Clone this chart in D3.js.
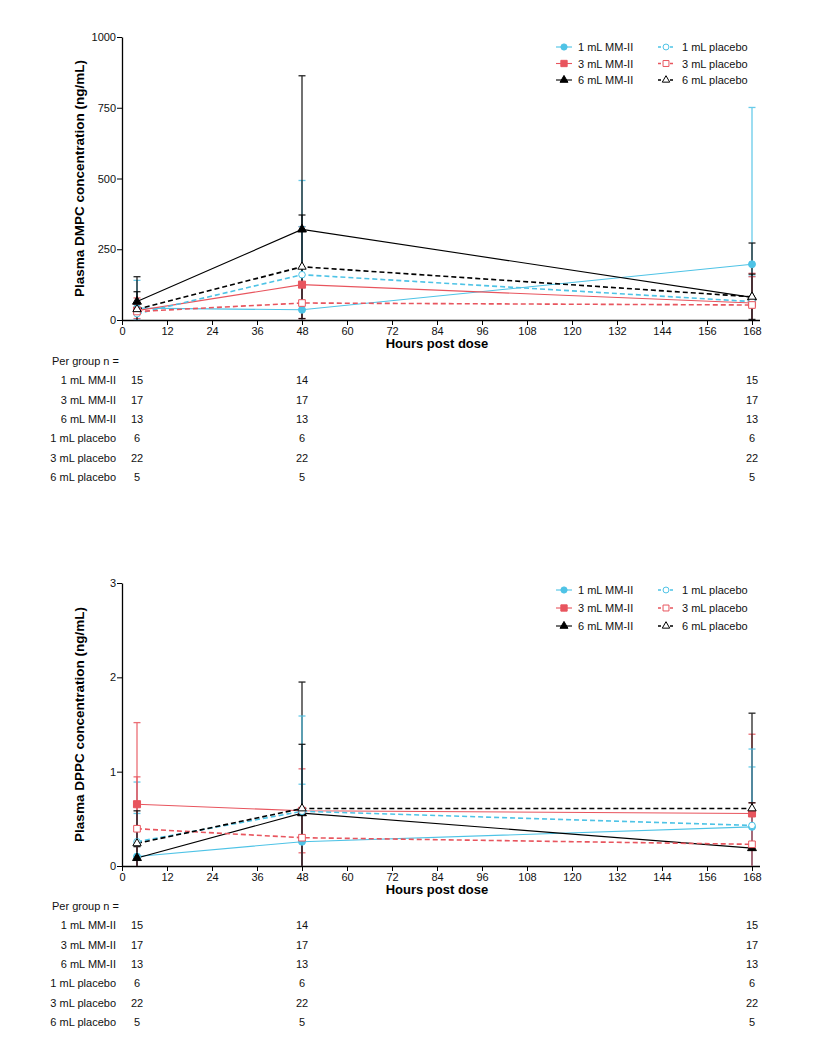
<!DOCTYPE html>
<html>
<head>
<meta charset="utf-8">
<title>DMPC / DPPC plasma concentration</title>
<script src="https://cdnjs.cloudflare.com/ajax/libs/d3/7.8.5/d3.min.js"></script>
<style>
  body { margin: 0; background: #fff; }
  svg text { font-family: "Liberation Sans", Arial, sans-serif; }
</style>
</head>
<body>
<div id="chart"></div>
<script>
// ---- data ----
var hours = [4, 48, 168];
var xTicks = [0, 12, 24, 36, 48, 60, 72, 84, 96, 108, 120, 132, 144, 156, 168];
var groups = ["1 mL MM-II", "3 mL MM-II", "6 mL MM-II", "1 mL placebo", "3 mL placebo", "6 mL placebo"];

// DMPC (ng/mL): mean and SD per group, at 4, 48, 168 h
var dmpcMean = [
  [42, 36, 197],
  [33, 125, 60],
  [65, 320, 80],
  [22, 160, 65],
  [30, 60, 53],
  [38, 188, 82]
];
var dmpcSD = [
  [98, 457, 554],
  [45, 205, 105],
  [88, 543, 192],
  [20, 170, 90],
  [25, 55, 100],
  [62, 183, 80]
];
var dmpcTicks = [0, 250, 500, 750, 1000];

// DPPC (ng/mL)
var dppcMean = [
  [0.10, 0.257, 0.415],
  [0.655, 0.585, 0.557],
  [0.085, 0.56, 0.19],
  [0.257, 0.58, 0.43],
  [0.395, 0.30, 0.23],
  [0.24, 0.61, 0.61]
];
var dppcSD = [
  [0.79, 0.61, 0.635],
  [0.865, 0.445, 0.84],
  [0.12, 1.39, 1.43],
  [0.30, 1.01, 0.81],
  [0.55, 0.30, 0.44],
  [0.345, 0.68, 0.06]
];
var dppcTicks = [0, 1, 2, 3];

// n per group at each time point
var nDmpc = [[15, 14, 15], [17, 17, 17], [13, 13, 13], [6, 6, 6], [22, 22, 22], [5, 5, 5]];
var nDppc = [[15, 14, 15], [17, 17, 17], [13, 13, 13], [6, 6, 6], [22, 22, 22], [5, 5, 5]];

// ---- styling ----
var colors = ["#4ec3e6", "#e8555e", "#000000", "#4ec3e6", "#e8555e", "#000000"];
var shapes = [d3.symbolCircle, d3.symbolSquare, d3.symbolTriangle, d3.symbolCircle, d3.symbolSquare, d3.symbolTriangle];
var symSize = [38, 50, 34, 34, 44, 30];
var dashed = [false, false, false, true, true, true];

var svg = d3.select("#chart").append("svg")
  .attr("width", 816).attr("height", 1056);

var x = d3.scaleLinear().domain([0, 170]).range([122, 759.5]);

function drawPanel(opt) {
  var y = d3.scaleLinear().domain([0, opt.ymax]).range([opt.y0, opt.y1]);
  var g = svg.append("g");

  // axes
  g.append("g")
    .attr("transform", "translate(0," + opt.y0 + ")")
    .call(d3.axisBottom(x).tickValues(xTicks).tickSize(5).tickSizeOuter(0).tickPadding(2))
    .call(function(a){
      a.selectAll("text").attr("font-size", 11).attr("fill", "#111");
      a.select(".domain").attr("stroke-width", 1.3);
    });
  g.append("g")
    .attr("transform", "translate(" + x(0) + ",0)")
    .call(d3.axisLeft(y).tickValues(opt.ticks).tickSize(5).tickSizeOuter(0).tickFormat(d3.format("d")))
    .call(function(a){
      a.selectAll("text").attr("font-size", 11).attr("fill", "#111").attr("x", -6);
      a.select(".domain").attr("stroke-width", 1.3);
    });

  g.append("text")
    .attr("transform", "translate(84," + ((opt.y0 + opt.y1) / 2) + ") rotate(-90)")
    .attr("text-anchor", "middle")
    .attr("font-size", 13.5).attr("font-weight", "bold")
    .text(opt.ylabel);
  g.append("text")
    .attr("x", 437).attr("y", opt.y0 + 28)
    .attr("text-anchor", "middle")
    .attr("font-size", 13).attr("font-weight", "bold")
    .text("Hours post dose");

  // error bars
  groups.forEach(function(name, gi){
    var eb = g.append("g").attr("stroke", colors[gi]).attr("stroke-width", 1.3).attr("opacity", 0.85);
    hours.forEach(function(h, i){
      var m = opt.mean[gi][i], s = opt.sd[gi][i];
      var hi = Math.min(opt.ymax, m + s), lo = Math.max(0, m - s);
      var cx = x(h);
      eb.append("line").attr("x1", cx).attr("x2", cx).attr("y1", y(lo)).attr("y2", y(hi));
      if (m + s <= opt.ymax)
        eb.append("line").attr("x1", cx - 3.5).attr("x2", cx + 3.5).attr("y1", y(hi)).attr("y2", y(hi));
      if (m - s > 0)
        eb.append("line").attr("x1", cx - 3.5).attr("x2", cx + 3.5).attr("y1", y(lo)).attr("y2", y(lo));
    });
  });

  // lines
  var line = d3.line().x(function(d){ return x(d[0]); }).y(function(d){ return y(d[1]); });
  groups.forEach(function(name, gi){
    var pts = hours.map(function(h, i){ return [h, opt.mean[gi][i]]; });
    g.append("path").datum(pts)
      .attr("d", line)
      .attr("fill", "none")
      .attr("stroke", colors[gi])
      .attr("stroke-width", dashed[gi] ? 1.6 : 1.1)
      .attr("stroke-dasharray", dashed[gi] ? "5,3" : null);
  });

  // markers
  groups.forEach(function(name, gi){
    hours.forEach(function(h, i){
      g.append("path")
        .attr("d", d3.symbol().type(shapes[gi]).size(symSize[gi]))
        .attr("transform", "translate(" + x(h) + "," + y(opt.mean[gi][i]) + ")")
        .attr("fill", dashed[gi] ? "#fff" : colors[gi])
        .attr("stroke", colors[gi])
        .attr("stroke-width", 1);
    });
  });

  // legend
  groups.forEach(function(name, gi){
    var col = gi < 3 ? 0 : 1, row = gi % 3;
    var lx = col === 0 ? 556 : 658;
    var ly = opt.legendY + row * opt.legendStep;
    var lg = g.append("g").attr("transform", "translate(" + lx + "," + ly + ")");
    lg.append("line").attr("x1", 0).attr("x2", 16).attr("y1", 0).attr("y2", 0)
      .attr("stroke", colors[gi]).attr("stroke-width", dashed[gi] ? 1.4 : 1.1)
      .attr("stroke-dasharray", dashed[gi] ? "3,3" : null);
    lg.append("path")
      .attr("d", d3.symbol().type(shapes[gi]).size(symSize[gi] * 0.8))
      .attr("transform", "translate(8,0)")
      .attr("fill", dashed[gi] ? "#fff" : colors[gi])
      .attr("stroke", colors[gi]);
    lg.append("text").attr("x", col === 0 ? 22 : 24).attr("y", 4)
      .attr("font-size", 11).attr("fill", "#111").text(name);
  });

  // n table
  var t = g.append("g").attr("font-size", 11).attr("fill", "#111");
  t.append("text").attr("x", 52).attr("y", opt.tableY).text("Per group n =");
  groups.forEach(function(name, gi){
    var ty = opt.tableY + 19.3 * (gi + 1);
    t.append("text").attr("x", 116).attr("y", ty).attr("text-anchor", "end").text(name);
    hours.forEach(function(h, i){
      t.append("text").attr("x", x(h)).attr("y", ty).attr("text-anchor", "middle").text(opt.n[gi][i]);
    });
  });
}

drawPanel({
  mean: dmpcMean, sd: dmpcSD, n: nDmpc, ticks: dmpcTicks, ymax: 1000,
  y0: 320, y1: 37, ylabel: "Plasma DMPC concentration (ng/mL)",
  legendY: 47, legendStep: 16.5, tableY: 365
});
drawPanel({
  mean: dppcMean, sd: dppcSD, n: nDppc, ticks: dppcTicks, ymax: 3,
  y0: 866, y1: 583, ylabel: "Plasma DPPC concentration (ng/mL)",
  legendY: 590, legendStep: 18, tableY: 910
});
</script>
</body>
</html>
